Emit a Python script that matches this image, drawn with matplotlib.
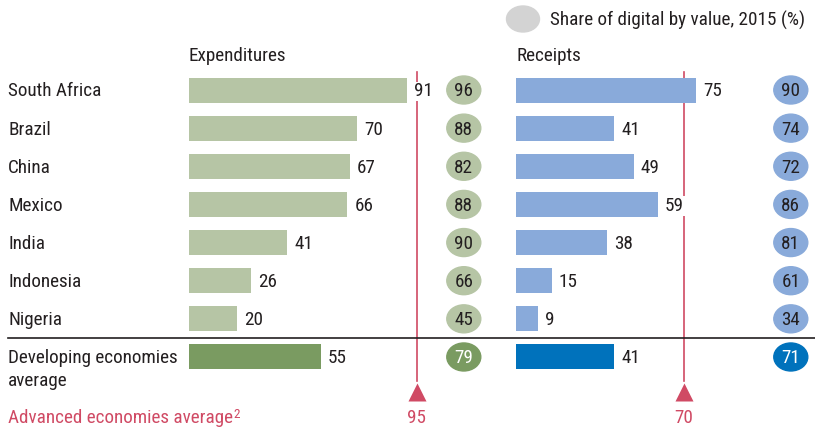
import matplotlib
matplotlib.use("Agg")
import matplotlib.pyplot as plt
from matplotlib.patches import Ellipse
from matplotlib.lines import Line2D
from matplotlib.transforms import blended_transform_factory

countries = ["South Africa", "Brazil", "China", "Mexico", "India", "Indonesia",
             "Nigeria", "Developing economies\naverage"]
expenditures = [91, 70, 67, 66, 41, 26, 20, 55]
exp_digital = [96, 88, 82, 88, 90, 66, 45, 79]
receipts = [75, 41, 49, 59, 38, 15, 9, 41]
rec_digital = [90, 74, 72, 86, 81, 61, 34, 71]
advanced_exp = 95
advanced_rec = 70

plt.rcParams["font.family"] = ["Roboto Condensed", "Archivo Narrow",
                               "Liberation Sans Narrow", "DejaVu Sans"]
FS = 13.8
TXT = "#231f20"
RED = "#d04a64"
GREEN_L, GREEN_D = "#b6c5a5", "#7a9b61"
BLUE_L, BLUE_D = "#89aada", "#0072bc"

W, H = 815, 430
fig = plt.figure(figsize=(W / 100, H / 100), dpi=100)

px_per_unit = 2.4
row_px = 38.14
top_row_px = 90
ylim = ((H - top_row_px) / row_px, -top_row_px / row_px)
text_dy = 1.5 / row_px  # text sits a touch low against bar centres


def px_y(p):
    return (p - top_row_px) / row_px


def make_ax(x0, x1):
    ax = fig.add_axes([x0 / W, 0, (x1 - x0) / W, 1])
    ax.set_xlim(0, (x1 - x0) / px_per_unit)
    ax.set_ylim(*ylim)
    ax.axis("off")
    return ax


ax1 = make_ax(189, 500)
ax2 = make_ax(516, 815)

rows = range(len(countries))
ellipse_w = 34 / px_per_unit
ellipse_h = 28 / row_px
circle_x = 114.5


def panel(ax, title, values, digital, light, dark, adv):
    n = len(values)
    colors = [light] * (n - 1) + [dark]
    ax.barh(list(rows), values, height=25 / row_px, color=colors, zorder=2)
    for i, v in enumerate(values):
        ax.annotate(str(v), (v, i + text_dy), xytext=(5, 0), textcoords="offset points",
                    va="center", ha="left", fontsize=FS, color=TXT, zorder=4,
                    bbox=dict(boxstyle="square,pad=0.05", fc="white", ec="none"))
    for i, d in enumerate(digital):
        ax.add_patch(Ellipse((circle_x, i), ellipse_w, ellipse_h,
                             color=colors[i], zorder=2))
        ax.text(circle_x, i + text_dy, str(d), ha="center", va="center", fontsize=FS,
                color="white" if i == n - 1 else TXT, zorder=3)
    ax.text(0, px_y(56), title, ha="left", va="center", fontsize=FS, color=TXT)
    # advanced economies reference line with marker
    ax.plot([adv, adv], [px_y(72), px_y(381)], color=RED, lw=1.2, zorder=1)
    ax.plot([adv], [px_y(392)], marker="^", ms=13, color=RED, mec="none")
    ax.text(adv, px_y(418), str(adv), ha="center", va="center",
            fontsize=FS, color=RED)


panel(ax1, "Expenditures", expenditures, exp_digital, GREEN_L, GREEN_D, advanced_exp)
panel(ax2, "Receipts", receipts, rec_digital, BLUE_L, BLUE_D, advanced_rec)

# row labels on the left edge
tr = blended_transform_factory(fig.transFigure, ax1.transData)
for i, c in enumerate(countries):
    first = c.split("\n")[0]
    ax1.text(8 / W, i + text_dy, first, transform=tr, ha="left", va="center",
             fontsize=FS, color=TXT)
    if "\n" in c:
        ax1.text(8 / W, px_y(381.5), c.split("\n")[1], transform=tr, ha="left",
                 va="center", fontsize=FS, color=TXT)
adv_label = ax1.text(8 / W, px_y(418), "Advanced economies average", transform=tr,
                     ha="left", va="center", fontsize=FS, color=RED)
# footnote marker
ax1.annotate("2", xy=(1, 1), xycoords=adv_label, xytext=(0.5, 1),
             textcoords="offset points", ha="left", va="top",
             fontsize=9.5, color=RED)

# separator above the average row
fig.add_artist(Line2D([8 / W, 1], [1 - 338 / H, 1 - 338 / H],
                      transform=fig.transFigure, color=TXT, lw=1.2))

# legend for the circles
ax2.add_patch(Ellipse((7 / px_per_unit, px_y(19)), 33 / px_per_unit, 26 / row_px,
                      color="#d3d3d3", clip_on=False))
ax2.text(34 / px_per_unit, px_y(20), "Share of digital by value, 2015 (%)",
         ha="left", va="center", fontsize=FS, color=TXT)

fig.savefig("out.png", dpi=100)
